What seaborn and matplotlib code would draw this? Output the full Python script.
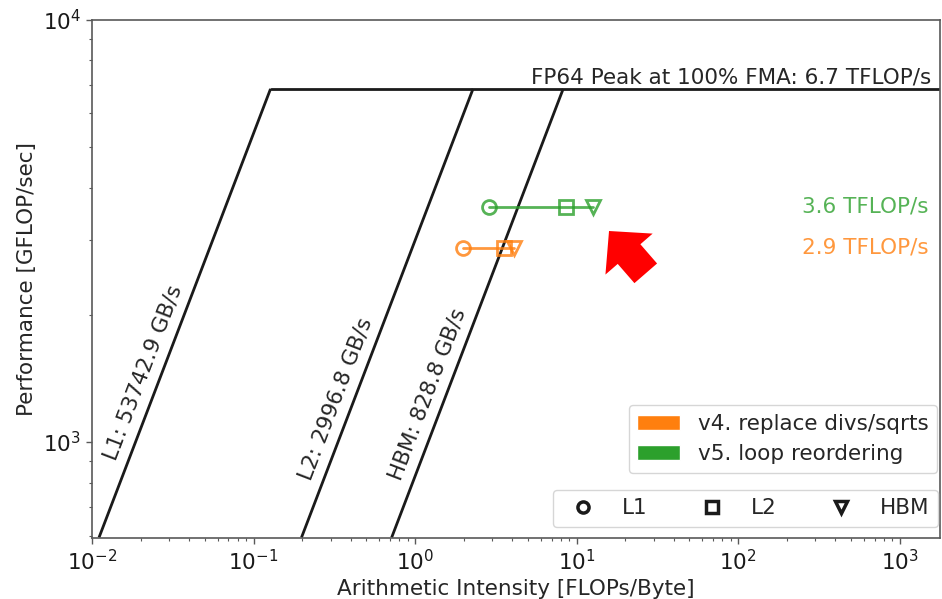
"""
Roofline chart: FP64 kernel versions against L1 / L2 / HBM roofs
"""

import matplotlib
matplotlib.use("Agg")
import numpy as np
import matplotlib.pyplot as plt
from matplotlib.patches import Patch, FancyArrowPatch
from matplotlib.lines import Line2D
from matplotlib.ticker import NullFormatter
import seaborn as sns

# machine roofs
levels = ["L1", "L2", "HBM"]
bandwidths = [53742.9, 2996.8, 828.8]          # GB/s
level_markers = ["o", "s", "v"]
peak_gflops = 6850.0                           # where the flat roof is drawn
peak_label = "FP64 Peak at 100% FMA: 6.7 TFLOP/s"

# measured kernels (one arithmetic intensity per memory level)
versions = ["v4. replace divs/sqrts", "v5. loop reordering"]
version_colors = ["tab:orange", "tab:green"]
intensity_v4 = [1.99, 3.57, 4.12]
intensity_v5 = [2.88, 8.65, 12.7]
gflops_v4 = [2880, 2880, 2880]
gflops_v5 = [3600, 3600, 3600]
perf_labels = ["2.9 TFLOP/s", "3.6 TFLOP/s"]

xlim = (0.01, 1780)
ylim = (594, 10000)
FS = 15.5

sns.set_theme(style="ticks")
plt.rcParams["font.family"] = ["DejaVu Sans"]
plt.rcParams["font.size"] = FS
plt.rcParams["mathtext.fontset"] = "dejavusans"

W, H = 942, 599
fig = plt.figure(figsize=(W / 100, H / 100), dpi=100)
ax = fig.add_axes([92 / W, 1 - 537.5 / H, 848 / W, 518 / H])
ax.set_xscale("log")
ax.set_yscale("log")
ax.set_xlim(*xlim)
ax.set_ylim(*ylim)

# roofs
ridges = [peak_gflops / bw for bw in bandwidths]
for bw, r in zip(bandwidths, ridges):
    xs = np.array([ylim[0] / bw, r])
    ax.plot(xs, bw * xs, color="k", lw=2, solid_capstyle="butt")
ax.plot([min(ridges), xlim[1]], [peak_gflops, peak_gflops], color="k", lw=2)
ax.annotate(peak_label, (xlim[1], peak_gflops), xytext=(-6, 1),
            textcoords="offset points", ha="right", va="bottom",
            fontsize=FS, color="0.15")

# angle of the slanted roofs on screen
p0 = ax.transData.transform((1.0, 1000.0))
p1 = ax.transData.transform((10.0, 10000.0))
angle = np.degrees(np.arctan2(p1[1] - p0[1], p1[0] - p0[0]))
nx, ny = -np.sin(np.radians(angle)), np.cos(np.radians(angle))
off = 5.5  # points, perpendicular to the roof
label_at = [880, 790, 790]
for lvl, bw, y_at in zip(levels, bandwidths, label_at):
    ax.annotate(f"{lvl}: {bw} GB/s", (y_at / bw, y_at),
                xytext=(off * nx, off * ny), textcoords="offset points",
                rotation=angle, rotation_mode="anchor",
                ha="left", va="bottom", fontsize=FS, color="0.15")

# kernels
ytrans = ax.get_yaxis_transform()
for color, xs, ys, lab in zip(version_colors,
                              [intensity_v4, intensity_v5],
                              [gflops_v4, gflops_v5], perf_labels):
    sns.lineplot(x=xs, y=ys, color=color, lw=2, alpha=0.8,
                 errorbar=None, legend=False, ax=ax)
    for x, y, m in zip(xs, ys, level_markers):
        ax.plot(x, y, ls="none", marker=m, ms=10, mfc="none",
                mec=color, mew=2, alpha=0.8)
    ax.text(0.987, ys[0], lab, transform=ytrans, ha="right", va="center",
            fontsize=FS, color=color, alpha=0.8)

# arrow pointing at the kernels
ax.add_patch(FancyArrowPatch(
    (0.653, 0.510), (0.6097, 0.5917), transform=ax.transAxes,
    arrowstyle="simple,head_length=1.1,head_width=2.25,tail_width=1.08",
    mutation_scale=20, shrinkA=0, shrinkB=0, color="red", lw=0))

# legends
h1 = [Patch(facecolor=c, label=v) for c, v in zip(version_colors, versions)]
leg1 = ax.legend(handles=h1, loc="lower right", bbox_to_anchor=(0.9965, 0.1245),
                 borderaxespad=0, fontsize=FS)
ax.add_artist(leg1)
h2 = [Line2D([], [], ls="none", marker=m, ms=8, mfc="none", mec="k", mew=2.5,
             label=l) for m, l in zip(level_markers, levels)]
ax.legend(handles=h2, ncol=3, loc="lower right", bbox_to_anchor=(0.9976, 0.0203),
          borderaxespad=0, fontsize=FS)

# axes cosmetics
ax.set_xlabel("Arithmetic Intensity [FLOPs/Byte]", fontsize=FS, color="0.15")
ax.set_ylabel("Performance [GFLOP/sec]", fontsize=FS, color="0.15")
ax.xaxis.set_minor_formatter(NullFormatter())
ax.yaxis.set_minor_formatter(NullFormatter())
ax.tick_params(which="both", direction="out", color="0.35", labelsize=FS,
               labelcolor="0.1")
ax.tick_params(which="major", length=4.5, width=1)
ax.tick_params(which="minor", length=2.5, width=0.8)
for s in ax.spines.values():
    s.set_visible(True)
    s.set_color("0.35")
    s.set_linewidth(1.2)

fig.savefig("out.png", dpi=100)
